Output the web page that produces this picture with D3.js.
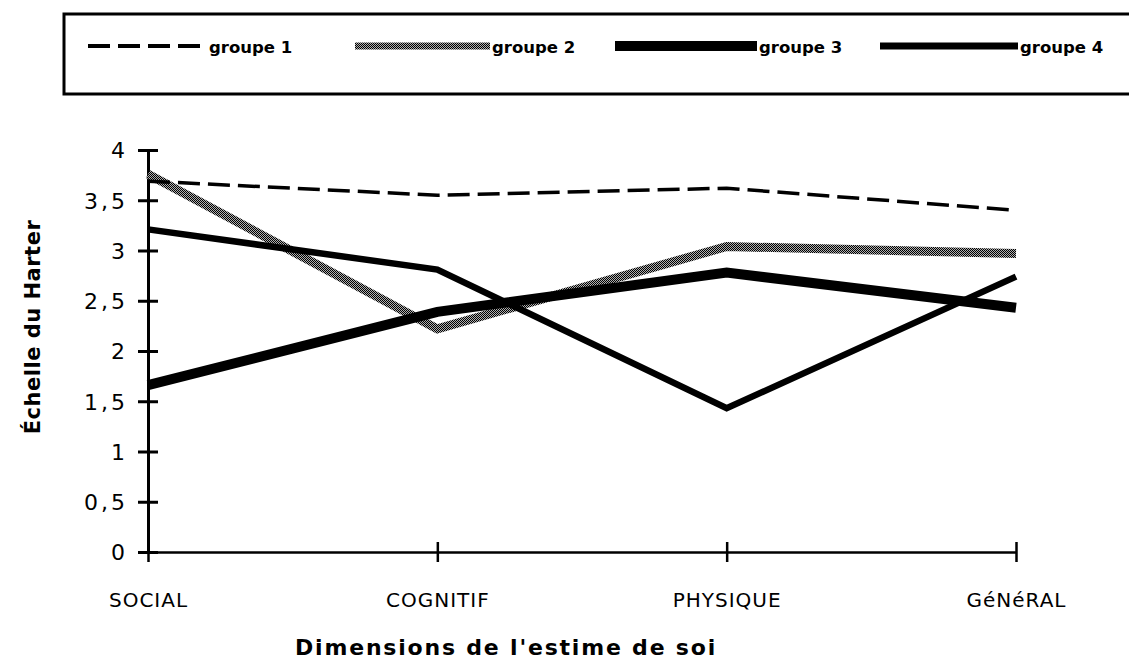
<!DOCTYPE html>
<html>
<head>
<meta charset="utf-8">
<script src="https://cdn.jsdelivr.net/npm/d3@7"></script>
<style>
  html, body { margin: 0; padding: 0; background: #fff; }
  svg { display: block; }
</style>
</head>
<body>
<svg id="chart" width="1129" height="662"></svg>
<script>
// ---- data ----
const categories = ["SOCIAL", "COGNITIF", "PHYSIQUE", "GéNéRAL"];
const seriesNames = ["groupe 1", "groupe 2", "groupe 3", "groupe 4"];
const groupe1 = [3.69, 3.55, 3.62, 3.40];
const groupe2 = [3.76, 2.22, 3.04, 2.97];
const groupe3 = [1.66, 2.39, 2.78, 2.43];
const groupe4 = [3.21, 2.81, 1.43, 2.74];
const yTicks = [0, 0.5, 1, 1.5, 2, 2.5, 3, 3.5, 4];
const yTickLabels = ["0", "0,5", "1", "1,5", "2", "2,5", "3", "3,5", "4"];
const yTitle = "Échelle du Harter";
const xTitle = "Dimensions de l'estime de soi";

const seriesValues = [groupe1, groupe2, groupe3, groupe4];

const svg = d3.select("#chart");

// dither pattern for groupe 2
const defs = svg.append("defs");
const pat = defs.append("pattern").attr("id", "dither")
  .attr("patternUnits", "userSpaceOnUse").attr("width", 2).attr("height", 2);
pat.append("rect").attr("width", 2).attr("height", 2).attr("fill", "#b0b0b0").attr("shape-rendering", "crispEdges");
pat.append("rect").attr("x", 0).attr("y", 0).attr("width", 1).attr("height", 1).attr("fill", "#000").attr("shape-rendering", "crispEdges");
pat.append("rect").attr("x", 1).attr("y", 1).attr("width", 1).attr("height", 1).attr("fill", "#000").attr("shape-rendering", "crispEdges");

const styles = [
  { stroke: "#000", width: 3.5, dash: "22,8" },
  { stroke: "url(#dither)", width: 9, dash: null },
  { stroke: "#000", width: 10, dash: null },
  { stroke: "#000", width: 6.5, dash: null }
];

const x = d3.scalePoint().domain(categories).range([148, 1016]);
const y = d3.scaleLinear().domain([0, 4]).range([552, 150]);

const tickFont = "'DejaVu Sans', sans-serif";

// ---- Y axis ----
const yAxis = d3.axisLeft(y).tickValues(yTicks).tickSize(10).tickSizeOuter(0)
  .tickFormat((d, i) => yTickLabels[i]);
const gy = svg.append("g").attr("transform", `translate(${x(categories[0])},0)`).call(yAxis);
gy.select(".domain").attr("stroke", "#000").attr("stroke-width", 3);
gy.selectAll(".tick line").attr("x1", 10).attr("x2", -10).attr("stroke", "#000").attr("stroke-width", 3);
gy.selectAll(".tick text").attr("x", -20).attr("dy", "0.36em")
  .attr("font-family", tickFont).attr("font-size", 22).attr("letter-spacing", 3)
  .attr("fill", "#000");

// ---- X axis ----
const xAxis = d3.axisBottom(x).tickSize(9).tickSizeOuter(0);
const gx = svg.append("g").attr("transform", `translate(0,${y(0)})`).call(xAxis);
gx.select(".domain").attr("stroke", "#000").attr("stroke-width", 2.5);
gx.selectAll(".tick line").attr("y1", -10).attr("y2", 10).attr("stroke", "#000").attr("stroke-width", 2.5);
gx.selectAll(".tick text").attr("y", 55).attr("dy", 0)
  .attr("font-family", tickFont).attr("font-size", 20).attr("letter-spacing", 1)
  .attr("fill", "#000");

// ---- series lines ----
const line = d3.line().x((d, i) => x(categories[i])).y(d => y(d));
const drawOrder = [1, 0, 3, 2];
drawOrder.forEach(k => {
  const s = styles[k];
  svg.append("path").datum(seriesValues[k])
    .attr("d", line)
    .attr("fill", "none")
    .attr("stroke", s.stroke)
    .attr("stroke-width", s.width)
    .attr("stroke-dasharray", s.dash)
    .attr("stroke-linejoin", "miter")
    .attr("stroke-linecap", "butt");
});

// ---- axis titles ----
svg.append("text")
  .attr("transform", `translate(40,327) rotate(-90)`)
  .attr("text-anchor", "middle")
  .attr("font-family", tickFont).attr("font-weight", "bold")
  .attr("font-size", 21).attr("letter-spacing", 0.5)
  .text(yTitle);

svg.append("text")
  .attr("x", 506).attr("y", 655)
  .attr("text-anchor", "middle")
  .attr("font-family", tickFont).attr("font-weight", "bold")
  .attr("font-size", 22).attr("letter-spacing", 1.8)
  .text(xTitle);

// ---- legend ----
const legend = svg.append("g");
legend.append("rect").attr("x", 64).attr("y", 14).attr("width", 1100).attr("height", 80)
  .attr("fill", "none").attr("stroke", "#000").attr("stroke-width", 3);
const legendX = d3.scaleOrdinal().domain(seriesNames).range([88, 355, 615, 880]);
const legendLen = [119, 135, 142, 138];
const legendWidths = [4, 7, 10, 7];
seriesNames.forEach((name, k) => {
  const s = styles[k];
  const x0 = legendX(name);
  legend.append("line")
    .attr("x1", x0).attr("x2", x0 + legendLen[k])
    .attr("y1", 46).attr("y2", 46)
    .attr("stroke", s.stroke)
    .attr("stroke-width", legendWidths[k])
    .attr("stroke-dasharray", s.dash);
  legend.append("text")
    .attr("x", x0 + legendLen[k] + 2).attr("y", 53)
    .attr("font-family", tickFont).attr("font-weight", "bold")
    .attr("font-size", 16.5).attr("letter-spacing", 0)
    .text(name);
});
</script>
</body>
</html>
